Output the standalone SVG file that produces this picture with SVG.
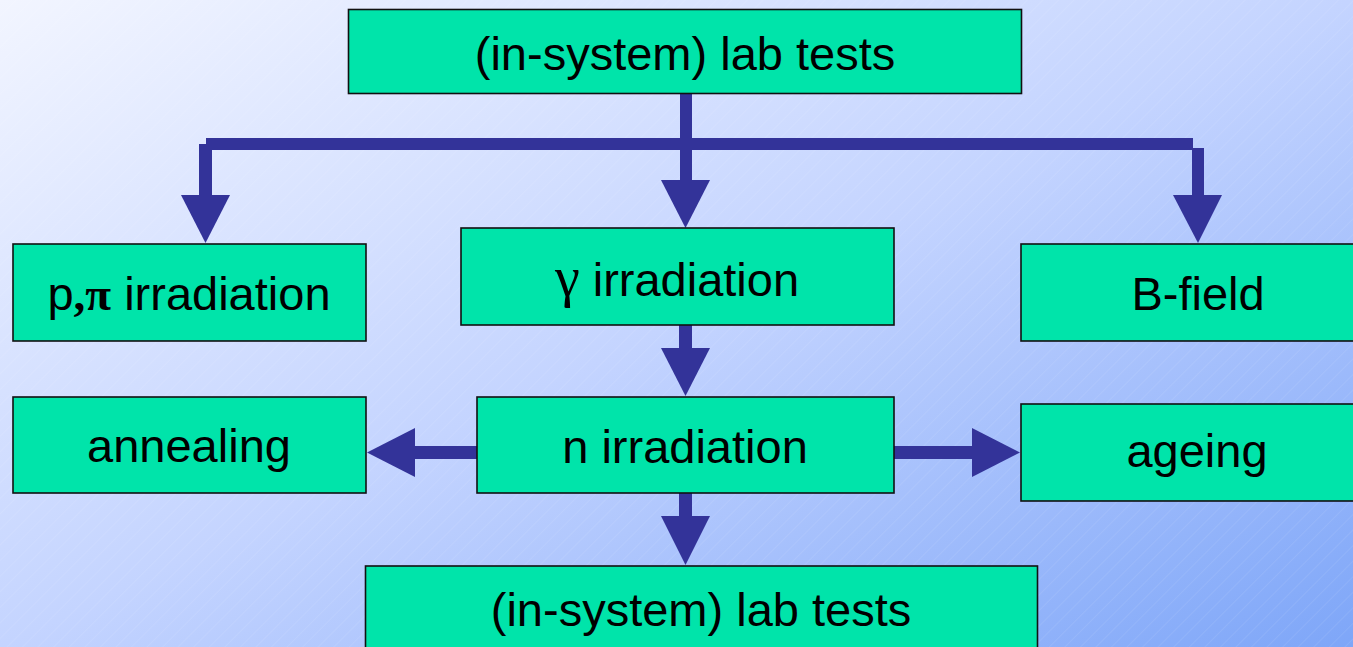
<svg xmlns="http://www.w3.org/2000/svg" width="1353" height="647" viewBox="0 0 1353 647">
<defs>
<linearGradient id="bg" x1="0" y1="0" x2="1" y2="1">
<stop offset="0" stop-color="#F2F5FF"/>
<stop offset="0.5" stop-color="#C4D4FF"/>
<stop offset="1" stop-color="#7EA6F8"/>
</linearGradient>
<pattern id="hatch" width="11" height="11" patternUnits="userSpaceOnUse" patternTransform="rotate(45)">
<line x1="0" y1="0" x2="0" y2="11" stroke="#FFFFFF" stroke-opacity="0.2" stroke-width="0.8"/>
</pattern>
<style>
.box{fill:#00E4AA;stroke:#111111;stroke-width:1.6}
.lbl{font-family:"Liberation Sans",Arial,sans-serif;font-size:47px;fill:#000000;text-anchor:middle}
.gr{font-family:"Liberation Serif","Times New Roman",serif}
.arr{fill:#333399;stroke:none}
</style>
</defs>
<rect x="0" y="0" width="1353" height="647" fill="url(#bg)"/>
<rect x="0" y="0" width="1353" height="647" fill="url(#hatch)"/>

<g id="connectors">
<rect class="arr" x="680" y="94" width="12" height="87"/>
<polygon class="arr" points="661,180 710,180 685.5,228"/>
<rect class="arr" x="206" y="138" width="987" height="12"/>
<rect class="arr" x="199" y="144" width="13" height="52"/>
<polygon class="arr" points="181,195 230,195 205.5,243"/>
<rect class="arr" x="1192" y="148" width="12" height="48"/>
<polygon class="arr" points="1173,195 1222,195 1198,243"/>
<rect class="arr" x="679" y="325" width="13" height="24"/>
<polygon class="arr" points="661,348 710,348 685.5,396"/>
<rect class="arr" x="679" y="493" width="13" height="24"/>
<polygon class="arr" points="661,516 710,516 685.5,565"/>
<rect class="arr" x="414" y="446" width="63" height="13"/>
<polygon class="arr" points="415,428 415,477 367,452.5"/>
<rect class="arr" x="894" y="446" width="79" height="13"/>
<polygon class="arr" points="972,428 972,477 1020,452.5"/>
</g>

<g id="node-top">
<rect class="box" x="348.5" y="9.5" width="673" height="84"/>
<text class="lbl" x="685" y="70">(in-system) lab tests</text>
</g>
<g id="node-ppi">
<rect class="box" x="13" y="244" width="353" height="97"/>
<text class="lbl" x="189" y="310">p<tspan class="gr" font-weight="bold">,π</tspan> irradiation</text>
</g>
<g id="node-gamma">
<rect class="box" x="461" y="228" width="433" height="97"/>
<text class="lbl" x="677" y="296"><tspan class="gr" font-size="56px">γ</tspan> irradiation</text>
</g>
<g id="node-bfield">
<rect class="box" x="1021" y="244" width="340" height="97"/>
<text class="lbl" x="1198" y="310">B-field</text>
</g>
<g id="node-annealing">
<rect class="box" x="13" y="397" width="353" height="96"/>
<text class="lbl" x="189" y="462">annealing</text>
</g>
<g id="node-n">
<rect class="box" x="477" y="397" width="417" height="96"/>
<text class="lbl" x="685" y="463">n irradiation</text>
</g>
<g id="node-ageing">
<rect class="box" x="1021" y="404" width="340" height="97"/>
<text class="lbl" x="1197" y="467">ageing</text>
</g>
<g id="node-bottom">
<rect class="box" x="365.5" y="566" width="672" height="100"/>
<text class="lbl" x="701" y="626">(in-system) lab tests</text>
</g>
</svg>
